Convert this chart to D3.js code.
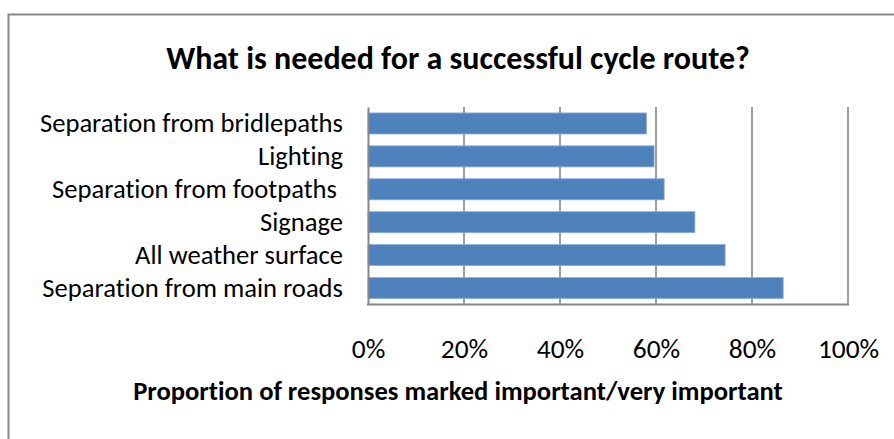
<!DOCTYPE html>
<html>
<head>
<meta charset="utf-8">
<script src="https://cdn.jsdelivr.net/npm/d3@7/dist/d3.min.js"></script>
<style>
  html, body { margin: 0; padding: 0; background: #fff; }
  svg { display: block; font-family: Carlito, Lato, "Open Sans", sans-serif; }
  svg text { font-variant-ligatures: none; font-feature-settings: "liga" 0, "clig" 0; }
</style>
</head>
<body>
<svg id="chart" width="894" height="439"></svg>
<script>
// Survey results: share of responses rating each feature important/very important
const categories = [
  "Separation from bridlepaths",
  "Lighting",
  "Separation from footpaths ",
  "Signage",
  "All weather surface",
  "Separation from main roads"
];
const values = [0.580, 0.596, 0.617, 0.681, 0.744, 0.865];
const tickValues = [0, 0.2, 0.4, 0.6, 0.8, 1.0];
const tickLabels = ["0%", "20%", "40%", "60%", "80%", "100%"];
const titleText = "What is needed for a successful cycle route?";
const axisTitleText = "Proportion of responses marked important/very important";

const svg = d3.select("#chart");
const gray = "#878787";

// Outer chart frame
svg.append("rect")
  .attr("x", 8.5).attr("y", 14.5)
  .attr("width", 900).attr("height", 440)
  .attr("fill", "#fff")
  .attr("stroke", gray)
  .attr("stroke-width", 2);

const plot = { left: 368, right: 848, top: 107, bottom: 304.5 };

const x = d3.scaleLinear().domain([0, 1]).range([plot.left, plot.right]);
const y = d3.scaleBand().domain(categories)
  .range([plot.top, plot.bottom])
  .paddingInner(0.36).paddingOuter(0.18);

// Vertical gridlines
svg.append("g")
  .selectAll("line")
  .data(tickValues.slice(1))
  .join("line")
  .attr("x1", d => x(d)).attr("x2", d => x(d))
  .attr("y1", plot.top).attr("y2", plot.bottom)
  .attr("stroke", gray)
  .attr("stroke-width", 1.6);

// Bars
svg.append("g")
  .selectAll("rect")
  .data(values)
  .join("rect")
  .attr("x", x(0))
  .attr("y", (d, i) => y(categories[i]))
  .attr("width", d => x(d) - x(0))
  .attr("height", y.bandwidth())
  .attr("fill", "#4F81BD")
  .attr("stroke", "#8FAEDB")
  .attr("stroke-width", 0.8);

// Category axis (left)
const yAxis = svg.append("g")
  .attr("transform", `translate(${plot.left},0)`)
  .call(d3.axisLeft(y).tickSize(0).tickPadding(25));
yAxis.select(".domain").attr("stroke", gray).attr("stroke-width", 2);
yAxis.selectAll("text")
  .attr("font-size", 26.6)
  .attr("fill", "#000")
  .style("white-space", "pre")
  .attr("font-family", "Carlito, Lato, sans-serif");

// Value axis baseline
svg.append("line")
  .attr("x1", plot.left - 1).attr("x2", plot.right + 1)
  .attr("y1", plot.bottom).attr("y2", plot.bottom)
  .attr("stroke", gray).attr("stroke-width", 2);

// Value tick labels
const xAxis = svg.append("g")
  .attr("transform", `translate(0,${plot.bottom})`)
  .call(d3.axisBottom(x).tickValues(tickValues)
    .tickFormat((d, i) => tickLabels[i]).tickSize(0).tickPadding(34));
xAxis.select(".domain").remove();
xAxis.selectAll("text")
  .attr("font-size", 27.4)
  .attr("fill", "#000")
  .attr("font-family", "Carlito, Lato, sans-serif");

// Chart title
svg.append("text")
  .attr("x", 458).attr("y", 68.5)
  .attr("text-anchor", "middle")
  .attr("font-weight", "bold")
  .attr("font-size", 32)
  .attr("fill", "#000")
  .text(titleText);

// Value axis title
svg.append("text")
  .attr("x", 458).attr("y", 400)
  .attr("text-anchor", "middle")
  .attr("font-weight", "bold")
  .attr("font-size", 26.6)
  .attr("fill", "#000")
  .text(axisTitleText);
</script>
</body>
</html>
